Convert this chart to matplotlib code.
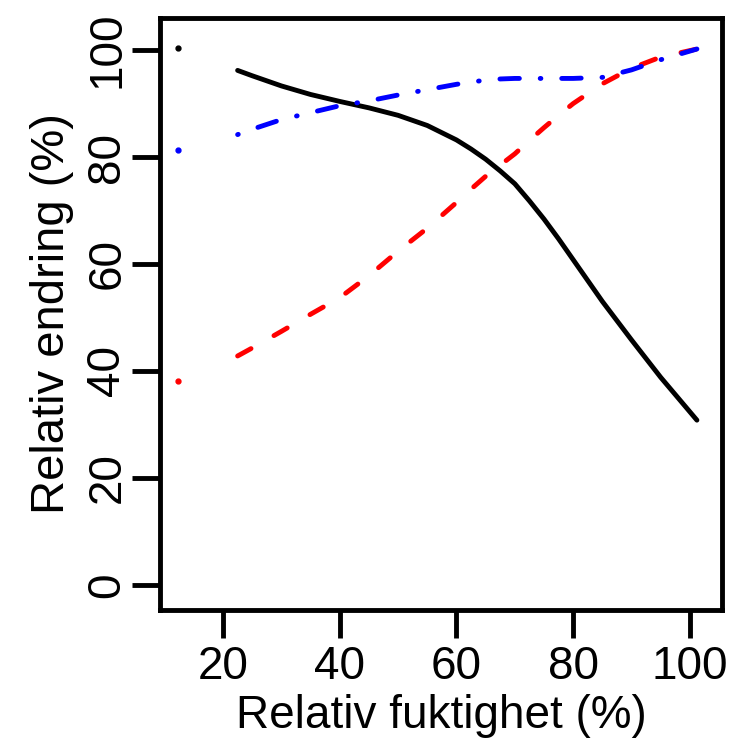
import matplotlib
matplotlib.use("Agg")
import matplotlib.pyplot as plt

plt.rcParams['font.family'] = ['Liberation Sans', 'DejaVu Sans']
plt.rcParams['lines.scale_dashes'] = False

# relative humidity (%) for the fitted curves
rh = [22.5, 25, 30, 35, 40, 45, 50, 55, 60, 62.5, 65, 67.5, 70, 72.5, 75,
      77.5, 80, 85, 90, 95, 101.2]
black_curve = [96.2, 95.2, 93.3, 91.7, 90.4, 89.2, 87.8, 85.9, 83.2, 81.5,
               79.6, 77.4, 75.0, 71.8, 68.4, 64.7, 60.8, 53.0, 45.8, 38.8,
               30.8]
red_curve = [42.8, 44.3, 47.4, 50.6, 53.7, 57.8, 62.4, 66.7, 71.5, 74.0,
             76.4, 78.5, 80.6, 83.1, 85.5, 87.8, 90.0, 93.7, 96.6, 98.7,
             100.2]
blue_curve = [84.2, 85.2, 87.0, 88.3, 89.6, 90.5, 91.6, 92.6, 93.6, 94.0,
              94.4, 94.6, 94.7, 94.7, 94.7, 94.7, 94.7, 94.9, 96.3, 98.2,
              100.2]

# single first observation at low humidity
rh0 = 12.3
black0 = 100.3
red0 = 38.1
blue0 = 81.3

xticks = [20, 40, 60, 80, 100]
yticks = [0, 20, 40, 60, 80, 100]

fig = plt.figure(figsize=(7.32, 7.41), dpi=100)
ax = fig.add_axes([160/732, 1-610/741, 562/732, 592/741])

ax.plot(rh, black_curve, color='black', lw=3.5, solid_capstyle='round',
        solid_joinstyle='round')
ax.plot(rh, red_curve, color='red', lw=3.5, dash_capstyle='round',
        dashes=(11, 19))
ax.plot(rh, blue_curve, color='blue', lw=3.5, dash_capstyle='round',
        dashes=(0.5, 15, 14, 15))

ax.plot([rh0], [black0], 'o', color='black', ms=3.5)
ax.plot([rh0], [red0], 'o', color='red', ms=3.5)
ax.plot([rh0], [blue0], 'o', color='blue', ms=3.5)

ax.set_xlim(9.2, 105.5)
ax.set_ylim(-4.7, 106)
ax.set_xticks(xticks)
ax.set_yticks(yticks)
ax.set_xticklabels([str(t) for t in xticks])
ax.set_yticklabels([str(t) for t in yticks], rotation=90, va='center')

for s in ax.spines.values():
    s.set_linewidth(3.5)
ax.tick_params(length=20, width=3.5, labelsize=33)
ax.tick_params(axis='x', pad=5)
ax.tick_params(axis='y', pad=2)

ax.set_xlabel('Relativ fuktighet (%)', fontsize=33, labelpad=4)
ax.set_ylabel('Relativ endring (%)', fontsize=34, labelpad=8)

fig.savefig('out.png', dpi=100)
